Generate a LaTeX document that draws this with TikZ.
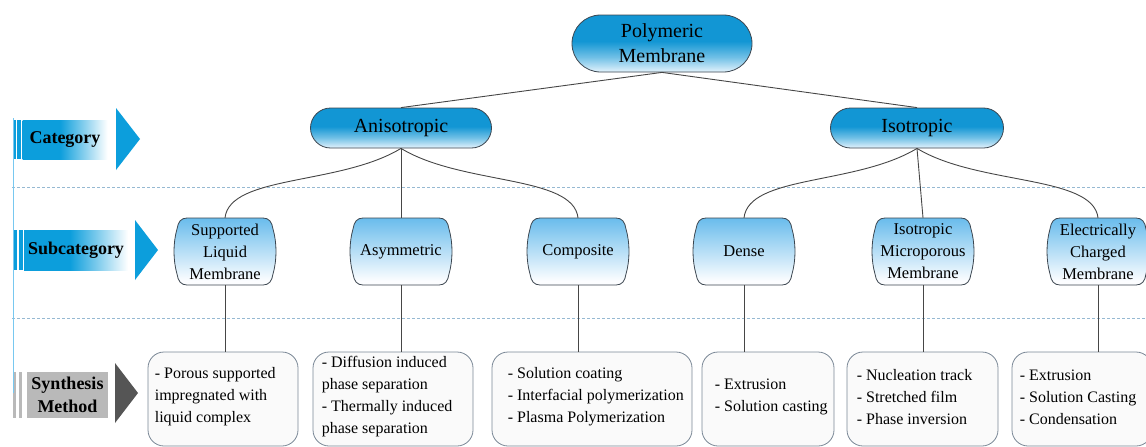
\documentclass[tikz,border=0pt]{standalone}
\usepackage{fontspec}
\setmainfont{Liberation Serif}
\usetikzlibrary{calc}

\definecolor{lblue}{RGB}{12,158,220}
\definecolor{pillT}{RGB}{18,150,212}
\definecolor{pillB}{RGB}{228,243,252}
\definecolor{subT}{RGB}{105,188,236}
\definecolor{subB}{RGB}{252,253,255}
\definecolor{edgecol}{RGB}{60,70,80}
\definecolor{conncol}{RGB}{70,70,70}
\definecolor{dashcol}{RGB}{150,185,210}
\definecolor{synB}{RGB}{122,135,150}
\definecolor{synF}{RGB}{250,250,250}
\definecolor{gbar}{RGB}{185,185,185}
\definecolor{gtri}{RGB}{85,85,85}
\definecolor{vlinecol}{RGB}{120,200,240}

\pgfdeclareverticalshading{pillshade}{100bp}{color(0bp)=(pillB); color(25bp)=(pillB); color(38bp)=(pillT!55!pillB); color(52bp)=(pillT); color(100bp)=(pillT)}
\pgfdeclareverticalshading{subshade}{100bp}{color(0bp)=(subB); color(28bp)=(subB); color(75bp)=(subT); color(100bp)=(subT)}
\pgfdeclarehorizontalshading{labshade}{100bp}{color(0bp)=(lblue); color(25bp)=(lblue); color(47bp)=(lblue); color(75bp)=(white); color(100bp)=(white)}

\tikzset{
  pill/.style={draw=edgecol, line width=0.8pt, shading=pillshade, align=center, inner sep=0pt},
  subtext/.style={minimum width=100pt, minimum height=67pt, inner sep=0pt, align=center, font=\fontsize{16.5}{22}\selectfont},
  subshape/.style={draw=edgecol, line width=0.8pt, shading=subshade},
  synbox/.style={draw=synB, fill=synF, rounded corners=16pt, line width=0.8pt, minimum height=94pt, inner sep=0pt},
  syntext/.style={anchor=west, inner sep=0pt, align=left, font=\fontsize{16}{22}\selectfont},
  conn/.style={draw=conncol, line width=0.9pt},
  labbox/.style={inner sep=0pt, align=center, font=\bfseries\fontsize{18}{23}\selectfont},
  dashline/.style={draw=dashcol, line width=0.8pt, dash pattern=on 3pt off 2pt}
}

\newcommand\subcat[3]{%
  \path[subshape] (#2-38,218) -- (#2+38,218)
    .. controls (#2+44,218) and (#2+47,222) .. (#2+48,229)
    .. controls (#2+52,243) and (#2+52,260) .. (#2+48,274)
    .. controls (#2+47,281) and (#2+44,285) .. (#2+38,285)
    -- (#2-38,285)
    .. controls (#2-44,285) and (#2-47,281) .. (#2-48,274)
    .. controls (#2-52,260) and (#2-52,243) .. (#2-48,229)
    .. controls (#2-47,222) and (#2-44,218) .. (#2-38,218) -- cycle;
  \node[subtext] (#1) at (#2,251.5) {#3};
}

\begin{document}
\begin{tikzpicture}[x=1pt,y=-1pt]
\useasboundingbox (0,0) rectangle (1146,447);
\clip (0,0) rectangle (1146,447);

% dashed separators
\draw[dashline] (12,187) -- (1146,187);
\draw[dashline] (12,318) -- (1146,318);

% left labels
\fill[lblue] (12.7,120) rectangle (15.7,159);
\fill[lblue] (16.7,120) rectangle (20.7,159);
\node[labbox, shading=labshade, minimum width=85pt, minimum height=39pt] (cat) at (65,139.5) {Category};
\fill[lblue] (116,108) -- (116,170) -- (140,139) -- cycle;

\fill[lblue] (14,230) rectangle (17,270);
\fill[lblue] (19,230) rectangle (22.7,270);
\node[labbox, shading=labshade, minimum width=104pt, minimum height=40pt] (subc) at (76,250) {Subcategory};
\fill[lblue] (135,220) -- (135,280) -- (158,250) -- cycle;

\fill[gbar] (13.3,372) rectangle (15.9,418);
\fill[gbar] (19,372) rectangle (22,418);
\node[labbox, fill=gbar, minimum width=81pt, minimum height=46pt] (synl) at (67.5,395) {Synthesis\\Method};
\fill[gtri] (115,363) -- (115,423) -- (138,393) -- cycle;

\draw[vlinecol, line width=1.2pt] (13.5,118) -- (13.5,393);

% tree nodes
\node[pill, minimum width=180pt, minimum height=57pt, rounded corners=28.5pt, font=\fontsize{20}{25}\selectfont] (root) at (662,43.5) {Polymeric\\Membrane};
\node[pill, minimum width=181pt, minimum height=40pt, rounded corners=20pt, font=\fontsize{20}{24}\selectfont] (ani) at (401,128) {Anisotropic};
\node[pill, minimum width=173pt, minimum height=40pt, rounded corners=20pt, font=\fontsize{20}{24}\selectfont] (iso) at (917,128) {Isotropic};

\subcat{slm}{225}{Supported\\Liquid\\Membrane}
\subcat{asym}{401}{Asymmetric}
\subcat{comp}{578}{Composite}
\subcat{dense}{744}{Dense}
\subcat{micro}{923}{Isotropic\\Microporous\\Membrane}
\subcat{elec}{1098}{Electrically\\Charged\\Membrane}

% synthesis boxes
\node[synbox, minimum width=150pt] (s1) at (223,399) {};
\node[synbox, minimum width=160pt] (s2) at (393,399) {};
\node[synbox, minimum width=200pt] (s3) at (592,399) {};
\node[synbox, minimum width=132pt] (s4) at (768,399) {};
\node[synbox, minimum width=151pt] (s5) at (922.5,399) {};
\node[synbox, minimum width=140pt] (s6) at (1082,399) {};

\node[syntext] (t1) at ($(s1.west)+(7,-2)$) {- Porous supported\\impregnated with\\liquid complex};
\node[syntext] (t2) at ($(s2.west)+(9,-2)$) {- Diffusion induced\\phase separation\\- Thermally induced\\phase separation};
\node[syntext] (t3) at ($(s3.west)+(16,-2)$) {- Solution coating\\- Interfacial polymerization\\- Plasma Polymerization};
\node[syntext] (t4) at ($(s4.west)+(13,-2)$) {- Extrusion\\- Solution casting};
\node[syntext] (t5) at ($(s5.west)+(10,-2)$) {- Nucleation track\\- Stretched film\\- Phase inversion};
\node[syntext] (t6) at ($(s6.west)+(8,-2)$) {- Extrusion\\- Solution Casting\\- Condensation};

% connectors
\draw[conn] (root.south) -- (ani.north);
\draw[conn] (root.south) -- (iso.north);

\draw[conn] (ani.south) .. controls +(-61,37) and +(5,-43) .. (slm.north);
\draw[conn] (ani.south) -- (asym.north);
\draw[conn] (ani.south) .. controls +(61,37) and +(-5,-43) .. (comp.north);

\draw[conn] (iso.south) .. controls +(-61,37) and +(5,-43) .. (dense.north);
\draw[conn] (iso.south) -- (micro.north);
\draw[conn] (iso.south) .. controls +(61,37) and +(-5,-43) .. (elec.north);

\draw[conn] (slm.south) -- (slm.south |- s1.north);
\draw[conn] (asym.south) -- (asym.south |- s2.north);
\draw[conn] (comp.south) -- (comp.south |- s3.north);
\draw[conn] (dense.south) -- (dense.south |- s4.north);
\draw[conn] (micro.south) -- (micro.south |- s5.north);
\draw[conn] (elec.south) -- (elec.south |- s6.north);
\end{tikzpicture}
\end{document}
